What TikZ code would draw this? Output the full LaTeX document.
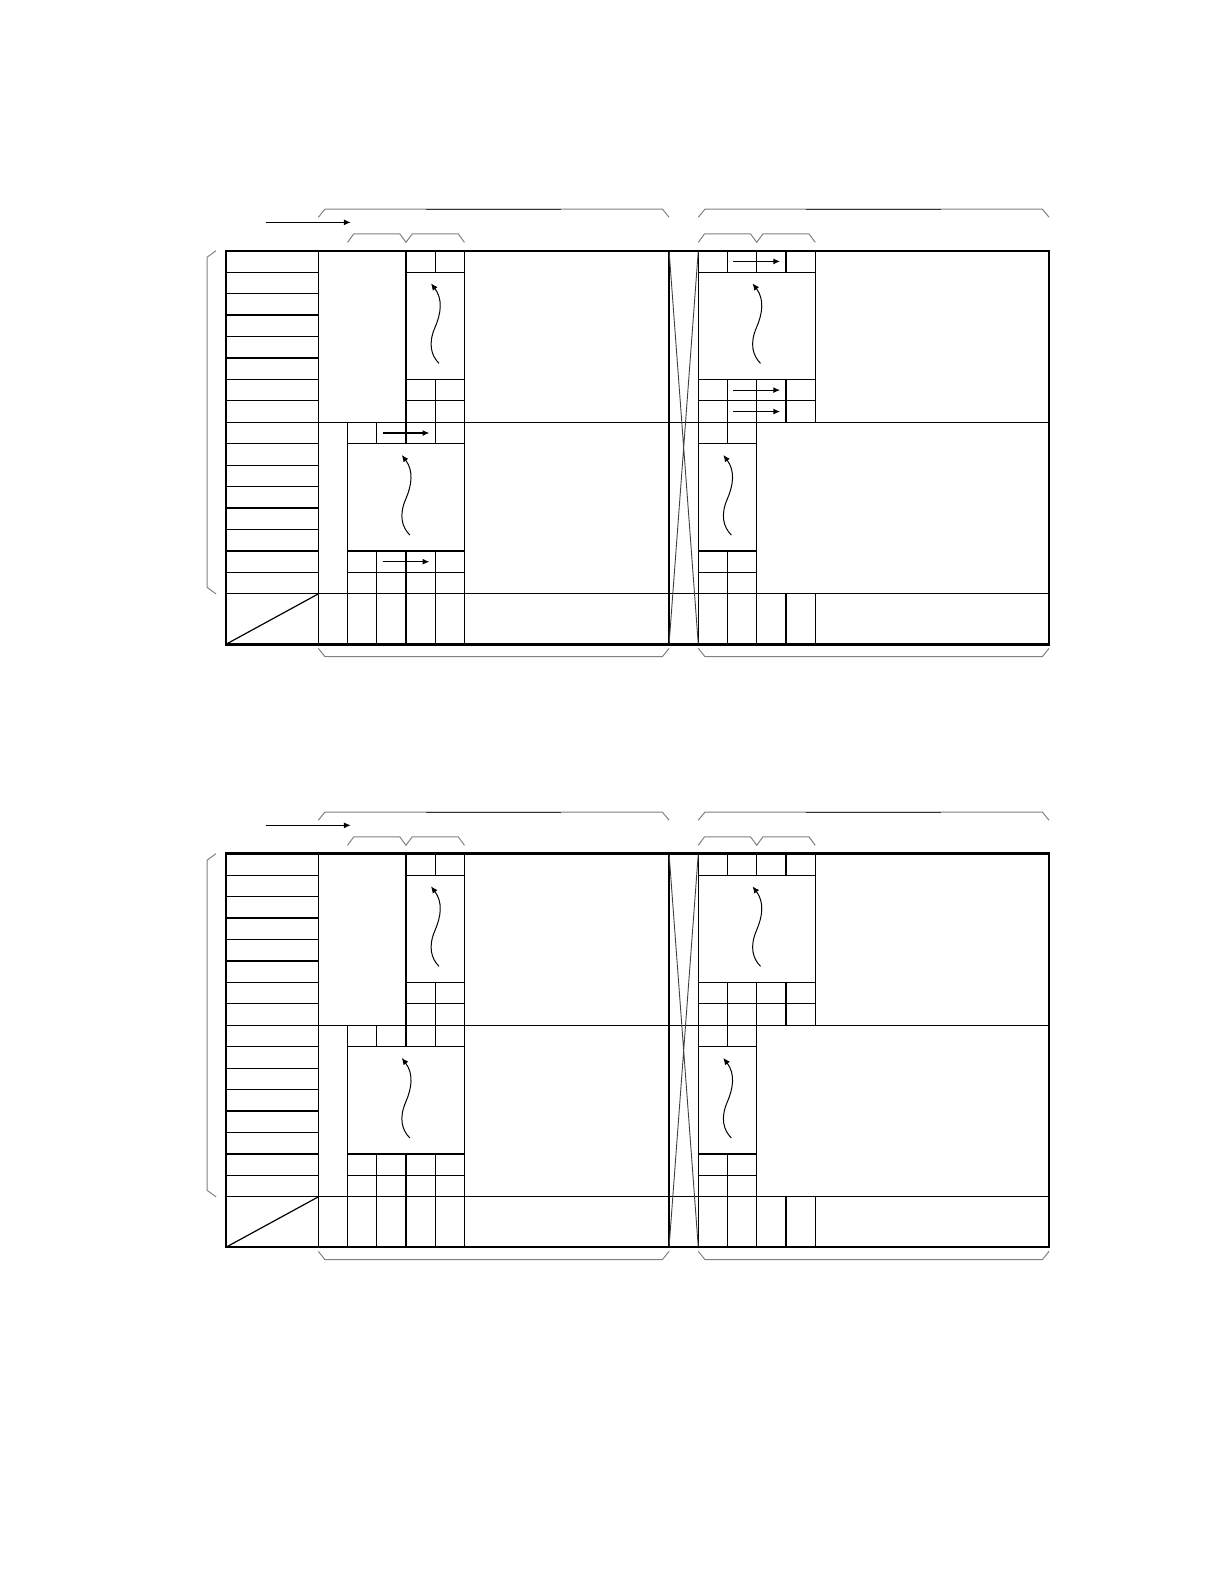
\documentclass[tikz,border=0pt]{standalone}
\usetikzlibrary{arrows.meta}

\newcommand\wavyarrow[2]{%
    \begin{scope}[shift={(#1,#2)}]
        \draw[wavearrow] (1.9pt,8pt) .. controls (-2.1pt,12pt) and (-3.6pt,18pt) .. (-0.1pt,26pt)
            .. controls (2.9pt,33pt) and (3.9pt,40pt) .. (-2.1pt,48pt);
    \end{scope}}

\newcommand\panelgrid{%
    \foreach \y in {1,...,7,9,10,...,15}
        \draw[gridline] (-3.16,\y) -- (0,\y);
    \draw[gridline] (-3.16,8) -- (25,8) (-3.16,16) -- (25,16);
    \draw[gridline] (-3.16,18.35) -- (0,16);
    \foreach \x in {0,5,12,13}
        \draw[gridline] (\x,0) -- (\x,18.35);
    \draw[gridline] (1,8) -- (1,18.35)
        (2,8) -- (2,9) (2,14) -- (2,18.35)
        (3,0) -- (3,9) (3,14) -- (3,18.35)
        (4,0) -- (4,1) (4,6) -- (4,9) (4,14) -- (4,18.35)
        (14,0) -- (14,1) (14,6) -- (14,9) (14,14) -- (14,18.35)
        (15,0) -- (15,1) (15,6) -- (15,18.35)
        (16,0) -- (16,1) (16,6) -- (16,8) (16,16) -- (16,18.35)
        (17,0) -- (17,8) (17,16) -- (17,18.35);
    \foreach \y in {1,6,7}
        \draw[gridline] (3,\y) -- (5,\y) (13,\y) -- (17,\y);
    \foreach \y in {9,14,15}
        \draw[gridline] (1,\y) -- (5,\y) (13,\y) -- (15,\y);
    \draw[xline] (12,0) -- (13,18.35) (13,0) -- (12,18.35);
    \draw[outerbox] (-3.16,0) rectangle (25,18.35);
    \wavyarrow{4}{6}
    \wavyarrow{15}{6}
    \wavyarrow{3}{14}
    \wavyarrow{14}{14}
    \foreach \a in {0,13} {
        \draw[bracket] (\a,-1.56) -- ++(0.23,-0.38) -- ++(11.54,0) -- ++(0.23,0.38);
        \draw[darkbar] (\a+3.7,-1.94) -- ++(4.6,0);
        \draw[bracket] (\a,18.54) -- ++(0.23,0.39) -- ++(11.54,0) -- ++(0.23,-0.39);
    }
    \foreach \a in {1,13}
        \draw[bracket] (\a,-0.39) -- ++(0.21,-0.39) -- ++(1.58,0) -- ++(0.21,0.39)
            -- ++(0.21,-0.39) -- ++(1.58,0) -- ++(0.21,0.39);
    \draw[bracket] (-3.5,0) -- (-3.8,0.3) -- (-3.8,15.7) -- (-3.5,16);
    \draw[cellarrow] (-1.79,-1.32) -- (1.11,-1.32);
}

\begin{document}
\begin{tikzpicture}[x=14.615pt, y=-10.725pt,
    gridline/.style={line width=0.6pt},
    outerbox/.style={line width=1.2pt},
    xline/.style={line width=0.45pt, black!75},
    bracket/.style={line width=0.5pt, black!50},
    darkbar/.style={line width=0.5pt, black!80},
    cellarrow/.style={line width=0.6pt, -{Latex[length=3.4pt,width=3pt]}},
    wavearrow/.style={line width=0.5pt, -{Latex[length=3.4pt,width=3pt]}}]
    \useasboundingbox (-10.89,-11.688) rectangle (30.985,62.16);
    \panelgrid
    \draw[cellarrow] (14.2,0.5) -- (15.8,0.5);
    \draw[cellarrow] (14.2,6.5) -- (15.8,6.5);
    \draw[cellarrow] (14.2,7.5) -- (15.8,7.5);
    \draw[cellarrow] (2.2,8.5) -- (3.8,8.5);
    \draw[cellarrow] (2.2,14.5) -- (3.8,14.5);
    \begin{scope}[shift={(0,28.11)}]
        \panelgrid
    \end{scope}
\end{tikzpicture}
\end{document}
